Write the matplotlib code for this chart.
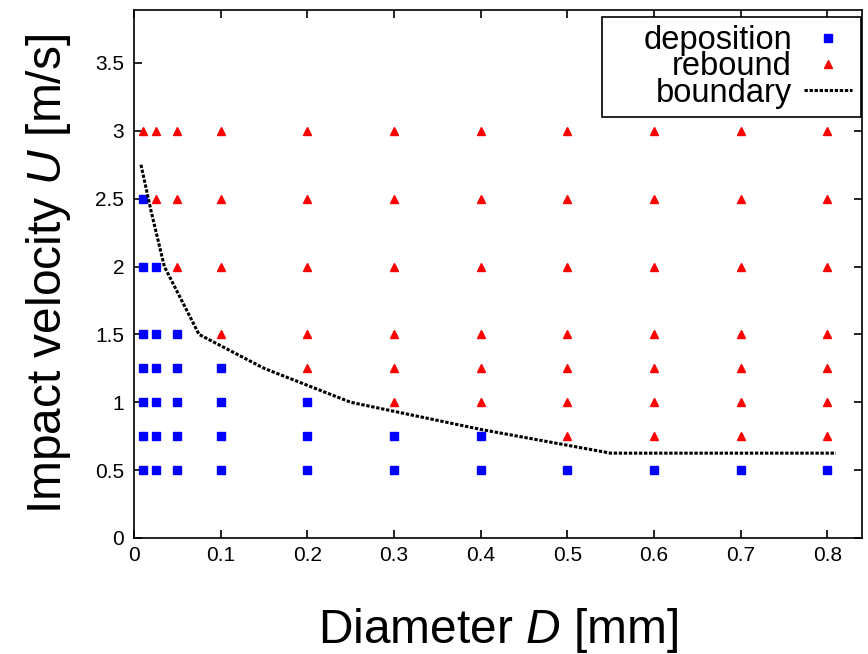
import numpy as np
import matplotlib
matplotlib.use("Agg")
import matplotlib.pyplot as plt
from matplotlib.patches import Rectangle

plt.rcParams['font.family'] = ['Liberation Sans', 'DejaVu Sans']
plt.rcParams['mathtext.fontset'] = 'custom'
plt.rcParams['mathtext.rm'] = 'Liberation Sans'
plt.rcParams['mathtext.it'] = 'Liberation Sans:italic'

# diameters [mm] and velocities [m/s]
dep_D = [0.01]*7 + [0.025]*6 + [0.05]*5 + [0.1]*4 + [0.2]*3 + [0.3]*2 + [0.4]*2 + [0.5, 0.6, 0.7, 0.8]
dep_U = ([0.5, 0.75, 1, 1.25, 1.5, 2, 2.5] + [0.5, 0.75, 1, 1.25, 1.5, 2]
         + [0.5, 0.75, 1, 1.25, 1.5] + [0.5, 0.75, 1, 1.25] + [0.5, 0.75, 1]
         + [0.5, 0.75] + [0.5, 0.75] + [0.5, 0.5, 0.5, 0.5])

reb_D = ([0.01] + [0.025]*2 + [0.05]*3 + [0.1]*4 + [0.2]*5 + [0.3]*6 + [0.4]*6
         + [0.5]*7 + [0.6]*7 + [0.7]*7 + [0.8]*7)
reb_U = ([3] + [2.5, 3] + [2, 2.5, 3] + [1.5, 2, 2.5, 3] + [1.25, 1.5, 2, 2.5, 3]
         + [1, 1.25, 1.5, 2, 2.5, 3] + [1, 1.25, 1.5, 2, 2.5, 3]
         + [0.75, 1, 1.25, 1.5, 2, 2.5, 3] * 4)

bnd_D = [0.008, 0.02, 0.035, 0.045, 0.075, 0.15, 0.25, 0.4, 0.55, 0.81]
bnd_U = [2.75, 2.4, 2.0, 1.875, 1.5, 1.25, 1.0, 0.8, 0.625, 0.625]

fig = plt.figure(figsize=(8.68, 6.54), dpi=100)
ax = fig.add_axes([0.1544, 0.1774, 0.8386, 0.8073])

ax.plot(dep_D, dep_U, 's', color='blue', markersize=5.5, linestyle='none', label='deposition')
ax.plot(reb_D, reb_U, '^', color='red', markersize=6, linestyle='none', label='rebound')
ax.plot(bnd_D, bnd_U, color='black', lw=2.2, dashes=(1.1, 0.55), label='boundary')

ax.set_xlim(0, 0.84)
ax.set_ylim(0, 3.89)
ax.set_xticks([0, 0.1, 0.2, 0.3, 0.4, 0.5, 0.6, 0.7, 0.8])
ax.set_xticklabels(['0', '0.1', '0.2', '0.3', '0.4', '0.5', '0.6', '0.7', '0.8'])
ax.set_yticks([0, 0.5, 1, 1.5, 2, 2.5, 3, 3.5])
ax.set_yticklabels(['0', '0.5', '1', '1.5', '2', '2.5', '3', '3.5'])
ax.tick_params(direction='in', top=True, right=True, labelsize=15, length=6, width=1.2)
ax.tick_params(axis='x', pad=6)
ax.tick_params(axis='y', pad=7)
for s in ax.spines.values():
    s.set_linewidth(1.2)

ax.set_xlabel('Diameter $D$ [mm]', fontsize=34.5, labelpad=29)
ax.set_ylabel('Impact velocity $U$ [m/s]', fontsize=34.5, labelpad=16)

# legend box drawn separately (gnuplot style, wide on the left)
box = Rectangle((0.6429, 0.7973), 0.3557, 0.1894, transform=ax.transAxes,
                facecolor='white', edgecolor='black', lw=1.2, zorder=4)
ax.add_patch(box)

leg = ax.legend(loc='upper right', bbox_to_anchor=(0.9863, 0.971), markerfirst=False,
                fontsize=23.5, frameon=False, borderaxespad=0, borderpad=0,
                handlelength=1.47, labelspacing=-0.15, handletextpad=0.37)
leg.set_zorder(5)
for vp in leg._legend_handle_box.get_children():
    vp.align = 'right'

fig.savefig('out.png', dpi=100)
